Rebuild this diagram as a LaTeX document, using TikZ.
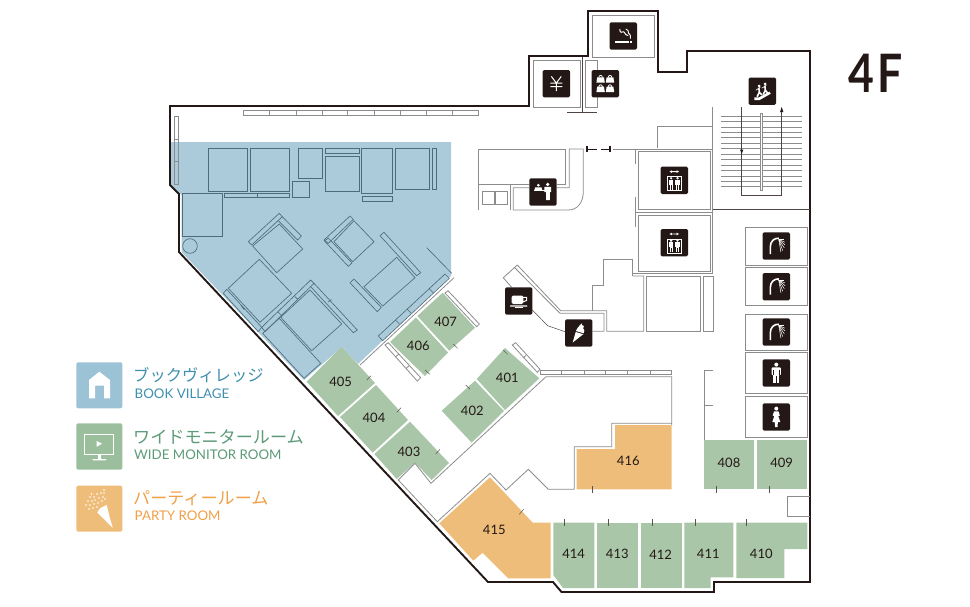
\documentclass[tikz,border=0pt]{standalone}
\usepackage{fontspec}
\setmainfont{Lato}
\newfontfamily\jpf{Noto Sans CJK JP}
\definecolor{ink}{HTML}{231815}
\definecolor{wline}{HTML}{8C8C8C}
\definecolor{fline}{HTML}{4F6B7A}
\definecolor{bluer}{HTML}{ABCBDB}
\definecolor{greenr}{HTML}{A9C6A8}
\definecolor{oranger}{HTML}{EFBD7A}
\definecolor{bluekey}{HTML}{9CC2D6}
\definecolor{greenkey}{HTML}{9BBF9C}
\definecolor{bluetx}{HTML}{3F8FAE}
\definecolor{greentx}{HTML}{5C9A78}
\definecolor{orangetx}{HTML}{F0A048}
\tikzset{
  wall/.style={draw=ink,line width=1.9pt,line join=miter},
  wl/.style={draw=wline,line width=.8pt},
  wd/.style={draw=ink!80,line width=.6pt},
  fu/.style={draw=fline,line width=.65pt},
  tick/.style={draw=ink!75,line width=.5pt},
  gr/.style={fill=greenr},
  orr/.style={fill=oranger},
  num/.style={font=\fontsize{13}{14}\selectfont,text=ink,inner sep=0pt},
  jp/.style={inner sep=0pt,anchor=west},
  en/.style={font=\fontsize{13.3}{15}\selectfont,inner sep=0pt,anchor=west},
  pics/ismoke/.style={code={
    \fill[ink,rounded corners=1.5pt] (-13.7,-13.7) rectangle (13.7,13.7);
    \fill[white] (-8.5,5) rectangle (5.8,6.8);
    \fill[white] (6.4,5) rectangle (8.5,6.8);
    \draw[white,line width=1pt,rounded corners=1pt] (-3.5,-7) -- (-3,-3.5) -- (1,-4.5) -- (2,-1.5) -- (5,-.5);
    \draw[white,line width=.9pt,rounded corners=1pt] (2.5,-7) -- (5.5,-5) -- (4.5,-3) -- (7,-1.5) -- (7,2.5);
  }},
  pics/iyen/.style={code={
    \fill[ink,rounded corners=1.5pt] (-13.7,-13.7) rectangle (13.7,13.7);
    \draw[white,line width=1pt] (-5,-7.3) -- (0,-.7) -- (5,-7.3) (-6,-.7) -- (6,-.7) (-6,3) -- (6,3) (0,-.7) -- (0,7.5);
  }},
  pics/ibag/.style={code={
    \fill[ink,rounded corners=1.5pt] (-13.7,-13.7) rectangle (13.7,13.7);
    \foreach \bx/\by in {-4.7/-3,4.7/-3,-4.7/6.4,4.7/6.4}{
      \fill[white] (\bx-4.2,\by+2) -- (\bx-3.4,\by-3.4) -- (\bx+3.4,\by-3.4) -- (\bx+4.2,\by+2) -- cycle;
      \draw[white,line width=.8pt] (\bx-1.8,\by-3.2) .. controls (\bx-1.8,\by-6) and (\bx+1.8,\by-6) .. (\bx+1.8,\by-3.2);
    }
  }},
  pics/iesc/.style={code={
    \fill[ink,rounded corners=1.5pt] (-13.7,-13.7) rectangle (13.7,13.7);
    \fill[white] (-8,9) -- (-8,6.2) -- (-3.5,6.2) -- (7,.5) -- (8.5,2.5) -- (-3,9) -- cycle;
    \fill[white] (-3.2,-5.2) circle (1.5pt) (2.8,-7.3) circle (1.5pt);
    \draw[white,line width=1.6pt,line cap=round] (-3.4,-3) -- (-3,1) -- (-5,5.2) (-3,1) -- (-.5,3.5);
    \draw[white,line width=1.6pt,line cap=round] (2.6,-5) -- (3,-1) -- (1,3) (3,-1) -- (5,1.5);
    \draw[white,line width=.6pt] (-6.5,-1) -- (-2,-4) (-.5,-3) -- (4,-6);
  }},
  pics/iev/.style={code={
    \fill[ink,rounded corners=1.5pt] (-13.7,-13.7) rectangle (13.7,13.7);
    \fill[white] (-4.8,-8.7) -- (-2.4,-10) -- (-2.4,-9.1) -- (2.4,-9.1) -- (2.4,-10) -- (4.8,-8.7) -- (2.4,-7.4) -- (2.4,-8.3) -- (-2.4,-8.3) -- (-2.4,-7.4) -- cycle;
    \draw[white,line width=.4pt] (-7,-4) rectangle (7,10.3);
    \foreach \px in {-3.2,3.2}{
      \fill[white] (\px,-2.1) circle (1.3pt);
      \fill[white] (\px-2.1,-.4) rectangle (\px+2.1,4.5);
      \fill[white] (\px-1.5,4.5) rectangle (\px+1.5,9.5);
      \draw[ink,line width=.35pt] (\px,5) -- (\px,9.5);
    }
  }},
  pics/irec/.style={code={
    \fill[ink,rounded corners=1.5pt] (-13.7,-13.7) rectangle (13.7,13.7);
    \fill[white] (4.7,-7.6) circle (1.8pt) (-4.7,-6.8) circle (1.5pt);
    \fill[white] (1.3,-5.2) -- (8,-5.2) -- (8,0) -- (6.8,0) -- (6.8,8) -- (3,8) -- (3,0) -- (1.3,0) -- cycle;
    \fill[white] (-7.8,-4.7) -- (-1.5,-4.7) -- (-.8,-2) -- (-8.6,-2) -- cycle;
    \fill[white] (-9,-1.6) rectangle (2,-.6);
  }},
  pics/icof/.style={code={
    \fill[ink,rounded corners=1.5pt] (-13.7,-13.7) rectangle (13.7,13.7);
    \fill[white,rounded corners=1.5pt] (-7,-5.5) rectangle (4.7,3);
    \draw[white,line width=1pt] (4,-3.7) -- (8,-3.7) -- (8,-.5) -- (3.5,1);
    \fill[white,rounded corners=.6pt] (-8.7,4.3) rectangle (8.7,5.7);
    \fill[white] (-4,6.4) rectangle (4,7);
  }},
  pics/iice/.style={code={
    \fill[ink,rounded corners=1.5pt] (-13.7,-13.7) rectangle (13.7,13.7);
    \fill[white] (-6,9.5) -- (-3,-1) -- (4.6,1.2) -- cycle;
    \fill[white] (-2.8,-2) -- (-.8,-5.6) -- (3,-9.6) -- (3.6,-7.6) -- (5.2,-7) -- (4.5,-4.5) -- (5.6,-2.5) -- (5,.3) -- cycle;
  }},
  pics/ishw/.style={code={
    \fill[ink,rounded corners=1.5pt] (-13.7,-13.7) rectangle (13.7,13.7);
    \draw[white,line width=1.6pt] (-6,8) -- (-6,1) .. controls (-6,-5) and (-2,-8) .. (2.5,-7.8);
    \foreach \ex/\ey in {7.5/-6.5,8.6/-3.8,8.8/-1,8/2,6.4/4.6,4.6/6.2}{
      \draw[white,line width=.5pt] (2.5,-6.5) -- (\ex,\ey);
    }
  }},
  pics/iman/.style={code={
    \fill[ink,rounded corners=1.5pt] (-13.7,-13.7) rectangle (13.7,13.7);
    \fill[white] (0,-8.4) circle (2pt);
    \fill[white,rounded corners=.8pt] (-4.6,-5.6) rectangle (4.6,2);
    \fill[white] (-2.9,-3) rectangle (2.9,10);
    \draw[ink,line width=.4pt] (0,3) -- (0,10) (-2.9,-3.5) -- (-2.9,2) (2.9,-3.5) -- (2.9,2);
  }},
  pics/iwom/.style={code={
    \fill[ink,rounded corners=1.5pt] (-13.7,-13.7) rectangle (13.7,13.7);
    \fill[white] (0,-8.4) circle (2pt);
    \fill[white] (-2.2,-5.6) -- (2.2,-5.6) -- (3.6,-1.5) -- (2,-1) -- (4,5) -- (1.6,5) -- (1.2,10) -- (-1.2,10) -- (-1.6,5) -- (-4,5) -- (-2,-1) -- (-3.6,-1.5) -- cycle;
  }},
}
\begin{document}
\begin{tikzpicture}[x=1pt,y=-1pt]
\useasboundingbox (0,0) rectangle (970,606);
% book village area
\fill[bluer] (171,142) -- (451,142) -- (451,276) -- (358,364) -- (342,347) -- (304,380) -- (181.5,252) -- (181.5,195) -- (171,185.5) -- cycle;
% green rooms
\fill[gr] (341.7,346.7) -- (375,383) -- (338,416) -- (306.7,381.7) -- cycle;
\fill[gr] (376,385) -- (408,420) -- (372.7,452.7) -- (340,417) -- cycle;
\fill[gr] (410,421.7) -- (449,463) -- (431.7,480) -- (415,462.7) -- (396.7,479) -- (374.3,454) -- cycle;
\fill[gr] (475,380.7) -- (504,411) -- (471.7,442.7) -- (441.7,410.7) -- cycle;
\fill[gr] (505,348) -- (539.3,378.3) -- (505,410) -- (476.7,379) -- cycle;
\fill[gr] (416,317.5) -- (448,352.5) -- (425,376) -- (390,342) -- cycle;
\fill[gr] (442.7,292.7) -- (475,327.7) -- (449.3,350.7) -- (417.3,316) -- cycle;
\fill[gr] (704.3,440) rectangle (754.3,489.3);
\fill[gr] (757.3,440) rectangle (807.3,489.3);
\fill[gr] (553.3,522.7) -- (594.3,522.7) -- (594.3,588) -- (563,588) -- (553.3,575) -- cycle;
\fill[gr] (597.3,522.7) rectangle (638.3,588);
\fill[gr] (641,522.7) rectangle (682.3,588);
\fill[gr] (684.3,522.7) -- (733.3,522.7) -- (733.3,577.3) -- (710.7,577.3) -- (710.7,588) -- (684.3,588) -- cycle;
\fill[gr] (736.3,522.7) -- (807.3,522.7) -- (807.3,549) -- (784.3,549) -- (784.3,578) -- (736.3,578) -- cycle;
% orange rooms
\fill[orr] (490,477.3) -- (532.7,522.7) -- (550.7,522.7) -- (550.7,578.3) -- (508.3,578.3) -- (482.7,552.7) -- (473.3,560.7) -- (439.3,523.3) -- cycle;
\fill[orr] (615,425) -- (671.7,425) -- (671.7,489.3) -- (576.7,489.3) -- (576.7,449) -- (615,449) -- cycle;
% outer wall
\draw[wall] (170,106) -- (529,106) -- (529,56) -- (588,56) -- (588,11) -- (658,11) -- (658,72) -- (687,72) -- (687,51) -- (810,51) -- (810,582) -- (714,582) -- (714,592) -- (561.5,592) -- (553,582) -- (488,582) -- (179,252) -- (179,194) -- (170,185) -- cycle;
% window strips
\draw[wl,line width=.6pt] (243.3,110.7) rectangle (478.3,115);
\foreach \sx in {269.3,296,322,347.7,374.3,400.7,426.3,452.7}{\draw[wl,line width=.6pt] (\sx,110.7) -- (\sx,115);}
\draw[wl,line width=.6pt] (174,116.7) rectangle (178.7,184) (174,139.3) -- (178.7,139.3) (174,161) -- (178.7,161);
\draw[wl,line width=.6pt] (540,370) rectangle (671.7,374);
\foreach \sx in {561.7,584,605.7,627.7,650}{\draw[wl,line width=.6pt] (\sx,370) -- (\sx,374);}
% furniture
\draw[fu] (208.3,148.7) rectangle (247.7,191);
\draw[fu] (250.3,148.7) rectangle (289.7,191);
\draw[fu] (298.3,148.7) rectangle (322.7,178.3);
\draw[fu] (325,148.7) rectangle (359,153.3);
\draw[fu] (325,156) rectangle (359,191);
\draw[fu] (361.3,148.7) rectangle (392.7,193.7);
\draw[fu] (362.3,196.7) rectangle (392,201.7);
\draw[fu] (395.3,148.7) rectangle (429.7,189.3);
\draw[fu] (432.3,148.7) rectangle (436.7,189.3);
\draw[fu] (292.3,181) rectangle (309.3,197.7);
\draw[fu] (224.7,193.7) rectangle (289.7,197.7) (257.3,193.7) -- (257.3,197.7);
\draw[fu] (182.7,193.7) rectangle (222.3,236);
\draw[fu] (190,246) circle (7.3pt);
\draw[fu] (279.3,224) -- (302.7,249) -- (276.7,272.7) -- (252.7,246) -- cycle;
\draw[fu] (248.3,241.7) -- (279.3,213.3) -- (282.3,216.7) -- (251.7,245) -- cycle;
\draw[fu] (282.3,216.7) -- (301.3,236) -- (297.7,240) -- (278.3,220.7);
\draw[fu] (354,220.7) -- (374,241.7) -- (352.7,261.7) -- (334,241.7) -- cycle;
\draw[fu] (324,240) -- (350,216) -- (353.3,219.3) -- (328.3,243.3) -- cycle;
\draw[fu] (324.5,241) -- (328.3,238) -- (352,263) -- (348.3,266.3) -- cycle;
\draw[fu] (396.7,257.3) -- (415,277.7) -- (382.7,306) -- (364,286.7) -- cycle;
\draw[fu] (384,232.3) -- (420.7,272.7) -- (416.7,275.7) -- (380,235.7) -- cycle;
\draw[fu] (354,279) -- (381.3,307.3) -- (377.3,311.7) -- (350,282.7) -- cycle;
\draw[fu] (426.7,247.7) -- (451.7,273.3);
\draw[fu] (259.3,259.3) -- (291.7,293.3) -- (260,322.3) -- (228.3,288.3) -- cycle;
\draw[fu] (226.7,289.3) -- (261.7,327.3) -- (258.3,331.7) -- (223.3,293.3) -- cycle (241,305.5) -- (244,309.5);
\draw[fu] (310,290) -- (341.7,324) -- (311.7,350.7) -- (280.7,317.3) -- cycle;
\draw[fu] (261.7,327.3) -- (310.7,280) -- (314,283.3) -- (265,331.7) -- cycle (295,296.7) -- (298,299.5) (278,312) -- (281,315);
\draw[fu] (314,283.3) -- (357.3,330) -- (353.3,332.7) -- (310.7,286.7);
\draw[fu] (328,302) -- (331.5,299.5);
\draw[fu] (279.3,318.3) -- (320.7,363.3) -- (304,378.3) -- (262.7,333.3) -- cycle;
% diagonal strip along 406/407
\draw[fu] (445,274) -- (449.3,278.3) -- (382.7,340.7) -- (378.3,336) -- cycle (429,288.5) -- (433,292.5) (407,309) -- (411,313) (395.5,320) -- (399.5,324);
\draw[wl] (454,277.7) -- (360,365);
% strips beside rooms
\draw[wl] (448,290.7) -- (479.3,324) -- (476.7,326.7) -- (445,293) -- cycle;
\draw[wl] (385,345) -- (388.3,342.7) -- (420.7,377.7) -- (417.3,381) -- cycle (396,356.5) -- (399,354) (406.5,368) -- (409.5,365.5);
\draw[wl] (512.3,345) -- (515.7,342.7) -- (540,369.3) -- (537.3,372.3) -- cycle (523,358) -- (526,355.5);
% corridor walls
\draw[wl] (671.7,425) -- (671.7,376.7) -- (546,376.7) -- (431,483.3) -- (415,463.3) -- (398.3,480) -- (437.3,521.7) -- (490,473.3) -- (506,490) -- (528.3,469.3) -- (548.3,489.3) -- (574.3,489.3) -- (574.3,446.7) -- (611.7,446.7) -- (611.7,423.3) -- (671.7,423.3);
% smoking, ATM, lockers
\draw[wl] (592,15) rectangle (654.3,57.3);
\draw[wl] (533.3,60) rectangle (580,107.7);
\draw[wl] (585,60) rectangle (597.3,107.7);
\draw[wd] (582.7,56.7) -- (582.7,112.7) (567.3,112.7) -- (597.3,112.7);
% elevators and stair surround
\draw[wl] (712.7,107.3) -- (712.7,273.3) -- (632.7,273.3);
\draw[wl] (657.7,148.3) -- (657.7,126.7) -- (712.7,126.7);
\draw[wl] (613.3,149) -- (712.7,149);
\draw[wl] (638.3,151.7) rectangle (710.7,209);
\draw[wl] (638.3,215) rectangle (710.7,271);
\draw[wl] (635.7,149) -- (635.7,164) (635.7,196.7) -- (635.7,226.7) (635.7,212) -- (712.7,212);
\draw[wd] (712.7,209.3) -- (810,209.3);
% door
\draw[ink,line width=1.6pt] (586.7,145.7) -- (586.7,152.3) (610,145.7) -- (610,152.3);
\draw[ink,line width=.9pt] (586.7,149) -- (596.7,149) (600.7,149) -- (610,149);
% stairs
\foreach \i in {0,...,13}{\draw[wl,line width=.65pt] (721,{116+5.44*\i}) -- (801.7,{116+5.44*\i});}
\draw[wl,fill=white] (760,113.3) rectangle (762.7,190);
\draw[wd] (741.7,107.3) -- (741.7,195.3) -- (781.7,195.3) -- (781.7,108.3);
\fill[ink] (780,112) -- (783.4,112) -- (781.7,107) -- cycle;
\fill[ink] (740,149.5) -- (743.4,149.5) -- (741.7,154) -- cycle;
% middle block walls
\draw[wl] (632.7,276) -- (632.7,259.3) -- (603.7,259.3) -- (603.7,285) -- (592.3,285) -- (592.3,310.7);
\draw[wl] (517.3,265) -- (560.7,310.7) -- (606.7,310.7) -- (606.7,331.3) -- (643.7,331.3) -- (643.7,276) -- (632.7,276);
\draw[wl] (514.3,267.3) -- (560,313.3) -- (604,313.3) -- (604,331.3) -- (592.3,331.3);
\draw[wl] (517.3,265) -- (503.3,277.7) -- (511.7,287.3);
\draw[wd,line width=.5pt] (532.3,310) -- (547.7,325.7) -- (565,331.7);
\draw[wl] (646.3,276) rectangle (700.7,331.3);
\draw[wl] (703.3,276) rectangle (713,331.3);
% reception
\draw[wl] (529.3,184) -- (478.3,184) -- (478.3,149) -- (565.7,149) -- (565.7,184.3) -- (556.7,184.3);
\draw[wl] (556.7,187.7) -- (569.3,187.7) -- (569.3,149) -- (583.3,149) -- (583.3,191.7) .. controls (583.3,203) and (577,210) .. (568.3,210) -- (513.3,210) -- (513.3,187.7) -- (529.3,187.7);
\draw[wl] (478.3,184) -- (478.3,210) (510,184.3) -- (510,210);
\draw[wl] (482,191.7) rectangle (494.3,204);
\draw[wl] (495,191.7) rectangle (507.3,204);
% toilets and showers
\draw[wl] (745.7,227.7) rectangle (807.3,265);
\draw[wl] (745.7,267.7) rectangle (807.3,305.3);
\draw[wl] (745.7,314.3) rectangle (807.3,350);
\draw[wl] (745.7,352.7) rectangle (807.3,393.3);
\draw[wl] (745.7,396.7) rectangle (807.3,437.3);
\draw[wl] (712.7,370) -- (704.3,370) -- (704.3,440) (704.3,405) -- (712.7,405);
\draw[wl] (810,496) -- (787.3,496) -- (787.3,516.7) -- (810,516.7);
% door ticks
\draw[tick] (366.7,380) -- (371,375.7) (396.7,412.3) -- (401,407.7) (435.7,454) -- (440,449.3);
\draw[tick] (465.7,385) -- (470,389.3) (503.3,350) -- (507.7,354.3) (425,370) -- (430,374.3) (453.3,344) -- (457.7,348.3);
\draw[tick] (519.3,514.3) -- (523.7,509.3);
\foreach \tx in {592.7,716.7,769.3}{\draw[tick] (\tx,486) -- (\tx,492.7);}
\foreach \tx in {564.3,608.3,652,695.7,746.7}{\draw[tick] (\tx,519.3) -- (\tx,526);}
% icons
\pic at (623.3,36) {ismoke};
\pic at (556.3,83.7) {iyen};
\pic at (605.3,83.7) {ibag};
\pic at (762.3,91.2) {iesc};
\pic at (674.3,180.3) {iev};
\pic at (674.3,242.7) {iev};
\pic at (543,192) {irec};
\pic at (518.7,301) {icof};
\pic at (578.7,333) {iice};
\pic at (776.3,246) {ishw};
\pic at (776.3,286.7) {ishw};
\pic at (776.3,332) {ishw};
\pic at (776.3,373) {iman};
\pic at (776.3,417) {iwom};
% room numbers
\node[num] (r405) at (340.7,382.3) {405};
\node[num] (r404) at (374,417.7) {404};
\node[num] (r403) at (409,452.3) {403};
\node[num] (r402) at (472.3,410.7) {402};
\node[num] (r401) at (507.3,377.7) {401};
\node[num] (r406) at (418.3,345.7) {406};
\node[num] (r407) at (445.7,321.7) {407};
\node[num] (r415) at (494.3,530) {415};
\node[num] (r416) at (628.3,460.7) {416};
\node[num] (r408) at (729,463.3) {408};
\node[num] (r409) at (781.7,463.3) {409};
\node[num] (r414) at (573.7,554.3) {414};
\node[num] (r413) at (617.3,554.3) {413};
\node[num] (r412) at (660.7,554.3) {412};
\node[num] (r411) at (708.3,554.3) {411};
\node[num] (r410) at (761.3,554.3) {410};
% floor label
\node[font=\fontsize{53}{56}\selectfont\bfseries,text=ink,inner sep=0pt] (floor) at (876,73) {\scalebox{.84}[1]{4\hspace{4pt}F}};
% legend
\fill[bluekey,rounded corners=2pt] (76.3,362.3) rectangle (122.3,408.3);
\fill[white] (89,380) -- (99.3,371.7) -- (110,380) -- (110,398.3) -- (104,398.3) -- (104,385.7) -- (95,385.7) -- (95,398.3) -- (89,398.3) -- cycle;
\fill[greenkey,rounded corners=2pt] (76.3,423.3) rectangle (122.3,469.7);
\draw[white,line width=1.3pt] (84.5,434.5) rectangle (113.5,454.5);
\fill[white] (96.7,441) -- (96.7,446.7) -- (102,443.7) -- cycle;
\fill[white] (98,455) rectangle (101,459) (92.7,459) rectangle (106,460.4);
\fill[oranger,rounded corners=2pt] (76.3,485.7) rectangle (122.3,531.7);
\fill[white] (112.7,527.7) -- (97.3,512.3) -- (100,508.3) -- (106.7,505) -- (110,518.3) -- cycle;
\foreach \dx/\dy in {91.5/494,90/497,94/497,97/494,101/493,104/493,88/501,92/501,95/500,99/498,103/497,86/505,90/505,94/504,98/503,102/501,105/499,89/509,93/508,97/507,104/490}{\fill[white] (\dx,\dy) circle (.9pt);}
\node[jp,text=bluetx,font=\jpf\fontsize{16.3}{18}\selectfont] (t1) at (133,375) {ブックヴィレッジ};
\node[en,text=bluetx] (e1) at (134.5,394) {BOOK VILLAGE};
\node[jp,text=greentx,font=\jpf\fontsize{17.1}{18}\selectfont] (t2) at (133,436.7) {ワイドモニタールーム};
\node[en,text=greentx] (e2) at (134,455) {WIDE MONITOR ROOM};
\node[jp,text=orangetx,font=\jpf\fontsize{17.1}{18}\selectfont] (t3) at (133,498) {パーティールーム};
\node[en,text=orangetx] (e3) at (134.5,515.7) {PARTY ROOM};
\end{tikzpicture}
\end{document}
